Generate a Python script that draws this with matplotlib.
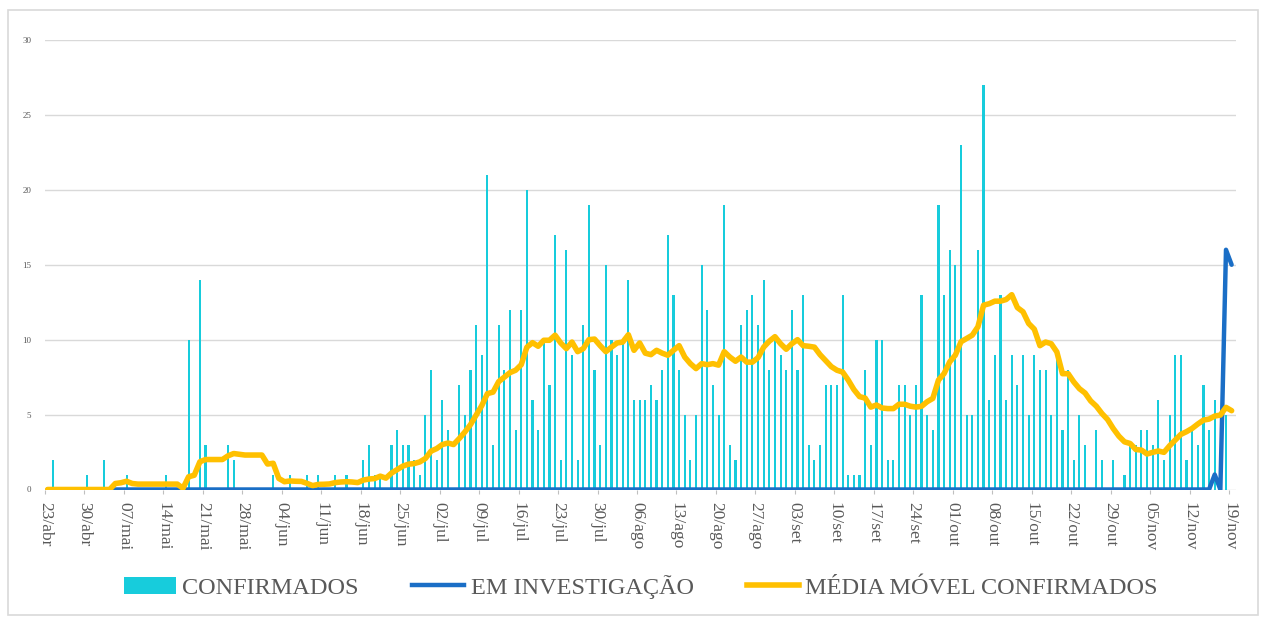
import matplotlib
matplotlib.use('Agg')
import matplotlib.pyplot as plt
import matplotlib.patches as mpatches
from matplotlib.lines import Line2D

# ─── Data (one value per day, starting 23/abr) ──────────────────────────
tick_labels = ['23/abr', '30/abr', '07/mai', '14/mai', '21/mai', '28/mai',
               '04/jun', '11/jun', '18/jun', '25/jun', '02/jul', '09/jul',
               '16/jul', '23/jul', '30/jul', '06/ago', '13/ago', '20/ago',
               '27/ago', '03/set', '10/set', '17/set', '24/set', '01/out',
               '08/out', '15/out', '22/out', '29/out', '05/nov', '12/nov',
               '19/nov']

confirmados = [
    0, 2, 0, 0, 0, 0, 0,
    1, 0, 0, 2, 0, 0, 0,
    1, 0, 0, 0, 0, 0, 0,
    1, 0, 0, 0, 10, 0, 14,
    3, 0, 0, 0, 3, 2, 0,
    0, 0, 0, 0, 0, 1, 0,
    0, 1, 0, 0, 1, 0, 1,
    0, 0, 1, 0, 1, 0, 0,
    2, 3, 1, 1, 0, 3, 4,
    3, 3, 2, 1, 5, 8, 2,
    6, 4, 0, 7, 5, 8, 11,
    9, 21, 3, 11, 8, 12, 4,
    12, 20, 6, 4, 10, 7, 17,
    2, 16, 9, 2, 11, 19, 8,
    3, 15, 10, 9, 10, 14, 6,
    6, 6, 7, 6, 8, 17, 13,
    8, 5, 2, 5, 15, 12, 7,
    5, 19, 3, 2, 11, 12, 13,
    11, 14, 8, 10, 9, 8, 12,
    8, 13, 3, 2, 3, 7, 7,
    7, 13, 1, 1, 1, 8, 3,
    10, 10, 2, 2, 7, 7, 5,
    7, 13, 5, 4, 19, 13, 16,
    15, 23, 5, 5, 16, 27, 6,
    9, 13, 6, 9, 7, 9, 5,
    9, 8, 8, 5, 9, 4, 8,
    2, 5, 3, 0, 4, 2, 0,
    2, 0, 1, 3, 3, 4, 4,
    3, 6, 2, 5, 9, 9, 2,
    4, 3, 7, 4, 6, 0, 5,
    0,
]

em_investigacao = [0] * 207 + [1, 0, 16, 15]

media_movel = [
    0, 0, 0, 0, 0, 0, 0,
    0, 0, 0, 0, 0, 0.4, 0.45,
    0.55, 0.4, 0.36, 0.36, 0.36, 0.36, 0.36,
    0.36, 0.36, 0.36, 0.08, 0.85, 0.95, 1.85,
    2.0, 2.0, 2.0, 2.0, 2.25, 2.4, 2.35,
    2.3, 2.3, 2.3, 2.3, 1.7, 1.75, 0.74,
    0.52, 0.57, 0.55, 0.54, 0.41, 0.26, 0.34,
    0.35, 0.37, 0.46, 0.5, 0.52, 0.5, 0.46,
    0.63, 0.7, 0.73, 0.89, 0.76, 1.1, 1.33,
    1.56, 1.69, 1.73, 1.84, 2.07, 2.56, 2.73,
    3.0, 3.1, 3.0, 3.4, 3.84, 4.33, 4.96,
    5.6, 6.4, 6.5, 7.2, 7.5, 7.8, 7.96,
    8.33, 9.5, 9.8, 9.56, 9.96, 9.96, 10.3,
    9.78, 9.4, 9.84, 9.2, 9.4, 10.0, 10.04,
    9.6, 9.2, 9.5, 9.78, 9.84, 10.33, 9.29,
    9.78, 9.1, 9.0, 9.29, 9.1, 8.96, 9.29,
    9.6, 8.84, 8.4, 8.07, 8.4, 8.33, 8.4,
    8.3, 9.2, 8.84, 8.56, 8.84, 8.5, 8.5,
    8.8, 9.5, 9.9, 10.2, 9.73, 9.36, 9.73,
    10.0, 9.6, 9.56, 9.5, 9.0, 8.6, 8.2,
    7.96, 7.84, 7.3, 6.67, 6.2, 6.1, 5.5,
    5.64, 5.44, 5.4, 5.4, 5.69, 5.69, 5.56,
    5.5, 5.55, 5.86, 6.08, 7.3, 7.74, 8.52,
    8.97, 9.86, 10.08, 10.3, 10.86, 12.3, 12.4,
    12.57, 12.57, 12.68, 13.0, 12.14, 11.86, 11.08,
    10.7, 9.6, 9.84, 9.73, 9.18, 7.73, 7.73,
    7.18, 6.73, 6.44, 5.91, 5.56, 5.07, 4.67,
    4.07, 3.56, 3.18, 3.07, 2.67, 2.63, 2.37,
    2.48, 2.57, 2.48, 2.92, 3.3, 3.68, 3.86,
    4.08, 4.37, 4.63, 4.7, 4.9, 4.97, 5.48,
    5.26,
]

# ─── Style ──────────────────────────────────────────────────────────────
c_bar = '#17CCDC'
c_blue = '#1A6EC6'
c_gold = '#FFC000'
c_text = '#595959'
c_grid = '#D9D9D9'
font = ['Liberation Serif', 'DejaVu Serif']

fig = plt.figure(figsize=(12.64, 6.18), dpi=100, facecolor='white')
ax = fig.add_axes([45 / 1264, 1 - 489.5 / 618, (1236 - 45) / 1264, (489.5 - 40) / 618])

# outer frame of the chart
fig.patches.append(mpatches.Rectangle((8 / 1264, 3 / 618), 1250 / 1264, 605 / 618,
                                      transform=fig.transFigure, fill=False,
                                      edgecolor='#D9D9D9', linewidth=1.2))

days = list(range(len(confirmados)))
xpos = [d + 0.47 for d in days]

ax.bar(xpos, confirmados, width=0.38, color=c_bar, zorder=2)
ax.plot(xpos, em_investigacao, color=c_blue, linewidth=3.2,
        solid_capstyle='round', solid_joinstyle='round', zorder=3)
ax.plot(xpos, media_movel, color=c_gold, linewidth=4.0,
        solid_capstyle='round', solid_joinstyle='round', zorder=4)

# ─── Axes ───────────────────────────────────────────────────────────────
ax.set_xlim(0, (1236 - 45) / 5.638)
ax.set_ylim(0, 30)
ax.set_yticks(range(0, 31, 5))
ax.yaxis.grid(True, color=c_grid, linewidth=1.0, zorder=0)
ax.set_axisbelow(True)
for s in ax.spines.values():
    s.set_visible(False)

ax.set_xticks(range(0, 7 * len(tick_labels), 7))
ax.set_xticklabels(tick_labels, rotation=-90, fontsize=12.5, color=c_text,
                   family=font, va='top', ha='center')
ax.tick_params(axis='x', length=3, width=0.8, color='#BFBFBF', pad=6)
ax.tick_params(axis='y', length=0, pad=10, labelsize=6.5, labelcolor=c_text)
for t in ax.get_yticklabels():
    t.set_family(font)

# ─── Legend ─────────────────────────────────────────────────────────────
handles = [
    mpatches.Patch(facecolor=c_bar, edgecolor='none'),
    Line2D([0], [0], color=c_blue, linewidth=3.2),
    Line2D([0], [0], color=c_gold, linewidth=4.0),
]
labels = ['CONFIRMADOS', 'EM INVESTIGAÇÃO', 'MÉDIA MÓVEL CONFIRMADOS']
leg = fig.legend(handles, labels, loc='center', bbox_to_anchor=(0.507, 1 - 587 / 618),
                 ncol=3, frameon=False, handlelength=2.15, handleheight=0.7,
                 handletextpad=0.25, columnspacing=2.2,
                 prop={'family': font, 'size': 17.5})
for t in leg.get_texts():
    t.set_color(c_text)

fig.savefig('out.png', dpi=100, facecolor='white')
plt.close()
